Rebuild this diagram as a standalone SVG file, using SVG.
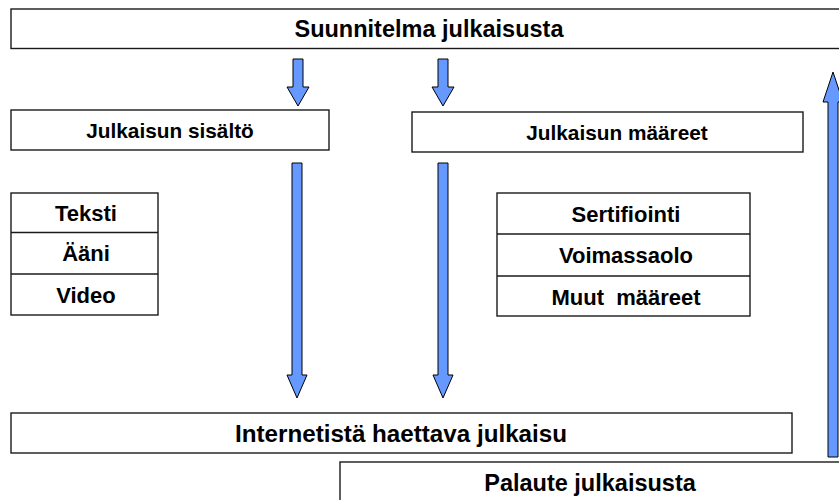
<svg xmlns="http://www.w3.org/2000/svg" width="839" height="500" viewBox="0 0 839 500">
  <style>
    .box { fill: #ffffff; stroke: #1a1a1a; stroke-width: 1.4; }
    .lbl { font-family: "Liberation Sans", Arial, sans-serif; font-weight: bold; font-size: 22px; fill: #000000; text-anchor: middle; dominant-baseline: central; white-space: pre; }
    .big { font-size: 23.5px; }
    .wide { font-size: 24.2px; }
    .mid { font-size: 20.8px; }
    .arrow { fill: #6699ff; stroke: #000000; stroke-width: 1; stroke-linejoin: miter; }
  </style>

  <!-- Plan -->
  <g id="suunnitelma">
    <rect class="box" x="11" y="9" width="840" height="39.5"/>
    <text class="lbl big" x="429" y="29">Suunnitelma julkaisusta</text>
  </g>

  <!-- Content -->
  <g id="sisalto">
    <rect class="box" x="11" y="110" width="318" height="40"/>
    <text class="lbl mid" x="170" y="130">Julkaisun sisältö</text>
  </g>

  <!-- Attributes -->
  <g id="maareet">
    <rect class="box" x="412" y="112" width="391" height="40"/>
    <text class="lbl mid" x="617" y="132">Julkaisun määreet</text>
  </g>

  <!-- Content types -->
  <g id="sisaltotyypit">
    <rect class="box" x="11" y="193" width="147" height="122"/>
    <line class="box" x1="11" y1="232.5" x2="158" y2="232.5"/>
    <line class="box" x1="11" y1="274" x2="158" y2="274"/>
    <text class="lbl" x="86" y="213">Teksti</text>
    <text class="lbl" x="86" y="253">Ääni</text>
    <text class="lbl" x="86" y="295">Video</text>
  </g>

  <!-- Attribute types -->
  <g id="maaretyypit">
    <rect class="box" x="497" y="193" width="253" height="123"/>
    <line class="box" x1="497" y1="234" x2="750" y2="234"/>
    <line class="box" x1="497" y1="276" x2="750" y2="276"/>
    <text class="lbl" x="626" y="214">Sertifiointi</text>
    <text class="lbl" x="626" y="255">Voimassaolo</text>
    <text class="lbl" x="626" y="297">Muut  määreet</text>
  </g>

  <!-- Published item -->
  <g id="julkaisu">
    <rect class="box" x="11" y="413" width="781" height="40"/>
    <text class="lbl wide" x="401" y="433">Internetistä haettava julkaisu</text>
  </g>

  <!-- Feedback -->
  <g id="palaute">
    <rect class="box" x="340" y="462" width="520" height="60"/>
    <text class="lbl big" x="590" y="483">Palaute julkaisusta</text>
  </g>

  <!-- Block arrows -->
  <g id="connectors">
    <polygon class="arrow" points="293,59 303,59 303,87 309,87 298,106 287,87 293,87"/>
    <polygon class="arrow" points="438,59 448,59 448,87 454,87 443,106 432,87 438,87"/>
    <polygon class="arrow" points="292,163 302,163 302,375 307,375 297,398 287,375 292,375"/>
    <polygon class="arrow" points="438,163 448,163 448,375 453,375 443,398 433,375 438,375"/>
    <polygon class="arrow" points="828,457 838,457 838,102 843,102 833,72 823,102 828,102"/>
  </g>
</svg>
